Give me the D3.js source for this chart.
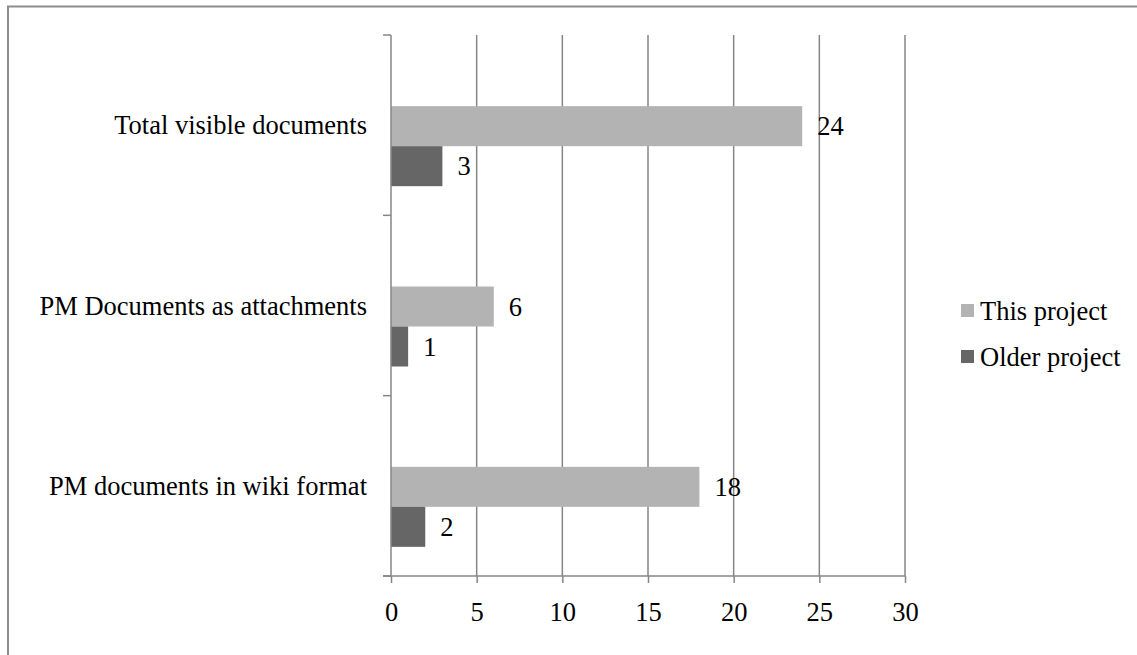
<!DOCTYPE html>
<html>
<head>
<meta charset="utf-8">
<script src="https://cdn.jsdelivr.net/npm/d3@7"></script>
<style>
  body { margin: 0; background: #fff; }
  svg text { font-family: "Liberation Serif", "Times New Roman", serif; fill: #000; }
</style>
</head>
<body>
<div id="chart-area"></div>
<script>
// data
var categories = ["Total visible documents", "PM Documents as attachments", "PM documents in wiki format"];
var seriesNames = ["This project", "Older project"];
var thisProject = [24, 6, 18];
var olderProject = [3, 1, 2];
var xTicks = [0, 5, 10, 15, 20, 25, 30];
var colors = ["#b3b3b3", "#666666"];

var W = 1137, H = 655;
var fontSize = "26.5px";
var margin = { left: 391, right: 232, top: 35, bottom: 79 };
var width = W - margin.left - margin.right,
    height = H - margin.top - margin.bottom;

var svg = d3.select("#chart-area")
    .append("svg")
        .attr("width", W)
        .attr("height", H);

// outer frame
svg.append("rect")
    .attr("x", 8).attr("y", 6.5)
    .attr("width", W + 10).attr("height", H + 10)
    .attr("fill", "none")
    .attr("stroke", "#8c8c8c")
    .attr("stroke-width", 2);

var g = svg.append("g")
    .attr("transform", "translate(" + margin.left + ", " + margin.top + ")");

// scales
var x = d3.scaleLinear()
    .domain([0, 30])
    .range([0, width]);

var y = d3.scaleBand()
    .domain(categories)
    .range([0, height]);

// three slots per group, first one empty (like the original)
var ySub = d3.scaleBand()
    .domain(["", "This project", "Older project"])
    .range([-60, 60]);

// gridlines
g.selectAll(".grid")
    .data(xTicks.slice(1))
    .enter().append("line")
    .attr("class", "grid")
    .attr("x1", function(d){ return x(d); })
    .attr("x2", function(d){ return x(d); })
    .attr("y1", 0)
    .attr("y2", height)
    .attr("stroke", "#868686")
    .attr("stroke-width", 1.5);

// bars
var rows = categories.map(function(c, i) {
    return { cat: c, values: [thisProject[i], olderProject[i]] };
});

var groups = g.selectAll(".grp")
    .data(rows)
    .enter().append("g")
    .attr("class", "grp")
    .attr("transform", function(d){ return "translate(0," + (y(d.cat) + y.bandwidth() / 2 + 1) + ")"; });

groups.selectAll("rect")
    .data(function(d){ return d.values.map(function(v, j){ return { v: v, s: seriesNames[j], j: j }; }); })
    .enter().append("rect")
    .attr("x", x(0))
    .attr("y", function(d){ return ySub(d.s); })
    .attr("width", function(d){ return x(d.v) - x(0); })
    .attr("height", ySub.bandwidth())
    .attr("fill", function(d){ return colors[d.j]; });

groups.selectAll(".lbl")
    .data(function(d){ return d.values.map(function(v, j){ return { v: v, s: seriesNames[j] }; }); })
    .enter().append("text")
    .attr("class", "lbl")
    .attr("x", function(d){ return x(d.v) + 15; })
    .attr("y", function(d){ return ySub(d.s) + ySub.bandwidth() / 2; })
    .attr("dy", "0.35em")
    .attr("font-size", fontSize)
    .text(function(d){ return d.v; });

// X axis
var xAxis = g.append("g")
    .attr("transform", "translate(0," + height + ")")
    .call(d3.axisBottom(x).tickValues(xTicks).tickSize(7).tickPadding(19).tickSizeOuter(0));
xAxis.select(".domain").remove();
xAxis.append("line")
    .attr("x1", -8).attr("x2", width)
    .attr("stroke", "#868686").attr("stroke-width", 1.5);
xAxis.selectAll(".tick line").attr("stroke", "#868686").attr("stroke-width", 1.5);
xAxis.selectAll(".tick text")
    .attr("font-size", fontSize)
    .attr("font-family", "Liberation Serif, serif")
    .attr("fill", "#000");

// Y axis
var yAxisGroup = g.append("g");
yAxisGroup.append("line")
    .attr("x1", 0).attr("x2", 0)
    .attr("y1", 0).attr("y2", height)
    .attr("stroke", "#868686").attr("stroke-width", 1.5);
var yBounds = [0].concat(categories.map(function(c){ return y(c) + y.bandwidth(); }));
yAxisGroup.selectAll(".ytick")
    .data(yBounds)
    .enter().append("line")
    .attr("x1", -8).attr("x2", 0)
    .attr("y1", function(d){ return d; })
    .attr("y2", function(d){ return d; })
    .attr("stroke", "#868686").attr("stroke-width", 1.5);
yAxisGroup.selectAll(".ylbl")
    .data(categories)
    .enter().append("text")
    .attr("x", -24)
    .attr("y", function(d){ return y(d) + y.bandwidth() / 2; })
    .attr("dy", "0.35em")
    .attr("text-anchor", "end")
    .attr("font-size", fontSize)
    .text(function(d){ return d; });

// legend
var legend = svg.append("g")
    .attr("transform", "translate(961, 311)");
var li = legend.selectAll(".li")
    .data(seriesNames)
    .enter().append("g")
    .attr("transform", function(d, i){ return "translate(0," + (i * 46) + ")"; });
li.append("rect")
    .attr("x", 0).attr("y", -7)
    .attr("width", 13).attr("height", 13)
    .attr("fill", function(d, i){ return colors[i]; });
li.append("text")
    .attr("x", 19)
    .attr("dy", "0.33em")
    .attr("font-size", fontSize)
    .text(function(d){ return d; });
</script>
</body>
</html>
